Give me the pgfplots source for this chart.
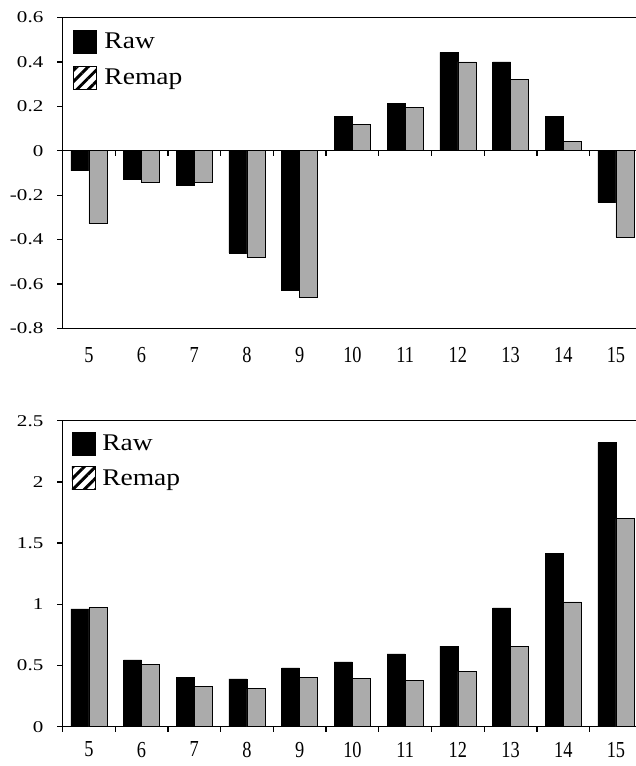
\documentclass[border=0pt]{standalone}
\usepackage{fontspec}
\setmainfont{Liberation Serif}
\newfontfamily\legfont[FakeStretch=1.15]{Liberation Serif}
\newfontfamily\yfont[FakeStretch=1.28]{Liberation Serif}
\newfontfamily\xfont[FakeStretch=0.8]{Liberation Serif}
\usepackage{pgfplots}
\pgfplotsset{compat=1.18}
\usetikzlibrary{patterns.meta}

\pgfplotsset{
  common/.style={
    scale only axis, width=573.5bp,
    xmin=-0.5, xmax=10.38,
    clip=false,
    axis x line*=bottom, axis y line*=left,
    axis line style={-, line width=1.3bp},
    ybar=0pt, bar width=18bp,
    tick align=outside, ytick pos=left,
    major tick length=5bp,
    every tick/.style={black, line width=1.3bp},
    xtick={0,...,10}, xticklabels={5,6,7,8,9,10,11,12,13,14,15},
    x tick style={draw=none},
    xticklabel style={font=\xfont\fontsize{23}{26}\selectfont, inner sep=0pt, anchor=north},
    yticklabel style={font=\yfont\fontsize{16.5}{18}\selectfont, inner sep=0pt, anchor=east},
    legend cell align=left,
    legend style={draw=none, fill=none, at={(rel axis cs:0,1)}, anchor=north west,
      inner sep=0pt, outer sep=0pt, row sep=11bp, column sep=5bp,
      font=\legfont\fontsize{24}{26}\selectfont},
    legend image code/.code={\draw[line width=0.8bp,##1] (0bp,-11.5bp) rectangle (23bp,11.5bp);},
  },
  rawbar/.style={fill=black, draw=black, line width=0.6bp},
  remapbar/.style={fill=black!33, draw=black, line width=0.6bp,
    legend image code/.code={\draw[line width=0.8bp, pattern={Lines[angle=45,distance=8bp,line width=3bp]}, pattern color=black] (0bp,-11.5bp) rectangle (23bp,11.5bp);}},
}

\begin{document}
\begin{tikzpicture}
\useasboundingbox (0,0) rectangle (636bp,766bp);

% ---------- top panel ----------
\begin{axis}[common,
  at={(62.5bp,437.5bp)}, anchor=south west, height=311bp,
  ymin=-0.8, ymax=0.6,
  ytick={-0.8,-0.6,-0.4,-0.2,0,0.2,0.4,0.6},
  yticklabels={-0.8,-0.6,-0.4,-0.2,0,0.2,0.4,0.6},
  xticklabel style={yshift=-14bp},
  yticklabel style={xshift=-14bp},
  legend style={xshift=9bp, yshift=-12.5bp},
]
\addplot[rawbar] coordinates {(0,-0.09)(1,-0.13)(2,-0.155)(3,-0.46)(4,-0.63)(5,0.153)(6,0.212)(7,0.443)(8,0.40)(9,0.153)(10,-0.232)};
\addplot[remapbar] coordinates {(0,-0.328)(1,-0.14)(2,-0.14)(3,-0.48)(4,-0.66)(5,0.12)(6,0.194)(7,0.40)(8,0.323)(9,0.042)(10,-0.39)};
\legend{Raw,Remap}
\draw[line width=1.3bp] (rel axis cs:0,1) -- (rel axis cs:1,1);
\draw[line width=1.3bp] (axis cs:-0.5,0) -- (axis cs:10.38,0);
\pgfplotsinvokeforeach{0.5,1.5,2.5,3.5,4.5,5.5,6.5,7.5,8.5,9.5}{
  \draw[line width=1.3bp] (axis cs:#1,0) -- ([yshift=-5bp]axis cs:#1,0);
}
\end{axis}

% ---------- bottom panel ----------
\begin{axis}[common,
  at={(62.5bp,39.3bp)}, anchor=south west, height=306bp,
  ymin=0, ymax=2.5,
  ytick={0,0.5,1,1.5,2,2.5},
  yticklabels={0,0.5,1,1.5,2,2.5},
  xticklabel style={yshift=-10bp},
  yticklabel style={xshift=-14bp},
  legend style={xshift=9bp, yshift=-11bp},
]
\addplot[rawbar] coordinates {(0,0.962)(1,0.545)(2,0.406)(3,0.39)(4,0.48)(5,0.529)(6,0.594)(7,0.659)(8,0.97)(9,1.417)(10,2.32)};
\addplot[remapbar] coordinates {(0,0.975)(1,0.51)(2,0.33)(3,0.31)(4,0.40)(5,0.395)(6,0.379)(7,0.452)(8,0.657)(9,1.019)(10,1.70)};
\legend{Raw,Remap}
\draw[line width=1.3bp] (rel axis cs:0,1) -- (rel axis cs:1,1);
\pgfplotsinvokeforeach{-0.5,0.5,1.5,2.5,3.5,4.5,5.5,6.5,7.5,8.5,9.5}{
  \draw[line width=1.3bp] (axis cs:#1,0) -- ([yshift=-5bp]axis cs:#1,0);
}
\end{axis}
\end{tikzpicture}
\end{document}
